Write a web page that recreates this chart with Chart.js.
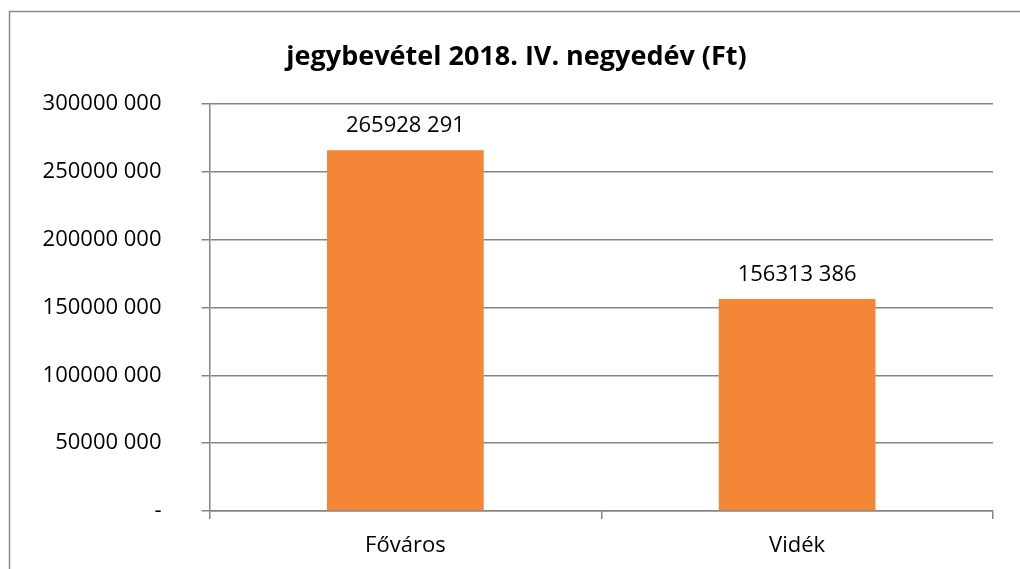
<!DOCTYPE html>
<html><head><meta charset="utf-8">
<script src="https://cdn.jsdelivr.net/npm/chart.js@4/dist/chart.umd.min.js"></script>
<style>html,body{margin:0;padding:0;background:#fff;overflow:hidden;}#wrap{width:1020px;height:569px;position:relative;}</style>
</head><body><div id="wrap"><canvas id="c"></canvas></div>
<script>
const categories = ["Főváros", "Vidék"];
const values = [265928291, 156313386];
const valueLabels = ["265928 291", "156313 386"];
const tickLabels = ["-", "50000 000", "100000 000", "150000 000", "200000 000", "250000 000", "300000 000"];
const titleText = "jegybevétel 2018. IV. negyedév (Ft)";

const GRID = '#868686';
const FONT = "'Open Sans', sans-serif";

const frame = {
  id: 'frame',
  beforeDraw(chart) {
    const ctx = chart.ctx;
    ctx.save();
    ctx.fillStyle = '#fff';
    ctx.fillRect(0, 0, chart.width, chart.height);
    ctx.strokeStyle = '#8a8a8a';
    ctx.lineWidth = 1.5;
    ctx.beginPath();
    ctx.moveTo(9.5, chart.height + 10);
    ctx.lineTo(9.5, 11.5);
    ctx.lineTo(chart.width + 10, 11.5);
    ctx.stroke();
    ctx.restore();
  }
};
const dataLabels = {
  id: 'dataLabels',
  afterDatasetsDraw(chart) {
    const ctx = chart.ctx;
    const meta = chart.getDatasetMeta(0);
    ctx.save();
    ctx.font = "22px " + FONT;
    ctx.fillStyle = '#000';
    ctx.textAlign = 'center';
    ctx.textBaseline = 'middle';
    meta.data.forEach((bar, i) => {
      ctx.fillText(valueLabels[i], bar.x, bar.y - 24);
    });
    ctx.restore();
  }
};

new Chart(document.getElementById('c'), {
  type: 'bar',
  data: {
    labels: categories,
    datasets: [{
      data: values,
      backgroundColor: '#F38637',
      borderWidth: 0,
      categoryPercentage: 0.4,
      barPercentage: 1.0
    }]
  },
  options: {
    responsive: true,
    maintainAspectRatio: false,
    animation: false,
    devicePixelRatio: 1,
    layout: { padding: { left: 40, right: 27, top: 0, bottom: 0 } },
    plugins: {
      legend: { display: false },
      tooltip: { enabled: false },
      title: {
        display: true,
        text: titleText,
        color: '#000',
        font: { family: FONT, size: 27, weight: 'bold' },
        padding: { top: 41, bottom: 30.6 }
      }
    },
    scales: {
      x: {
        offset: true,
        grid: { offset: true, drawOnChartArea: false, drawTicks: true, tickLength: 8, color: GRID, lineWidth: 1.5 },
        border: { display: true, color: GRID, width: 1.5 },
        ticks: { color: '#000', font: { family: FONT, size: 22 }, padding: 14 },
        afterFit(scale) { scale.height = 58; }
      },
      y: {
        min: 0, max: 300000000,
        ticks: {
          stepSize: 50000000,
          color: '#000',
          font: { family: FONT, size: 22 },
          padding: 40,
          callback: (v, i) => tickLabels[i]
        },
        grid: { color: GRID, lineWidth: 1.5, tickLength: 8 },
        border: { display: true, color: GRID, width: 1.5 },
        afterFit(scale) { scale.width = 169.5; }
      }
    }
  },
  plugins: [frame, dataLabels]
});
</script></body></html>
